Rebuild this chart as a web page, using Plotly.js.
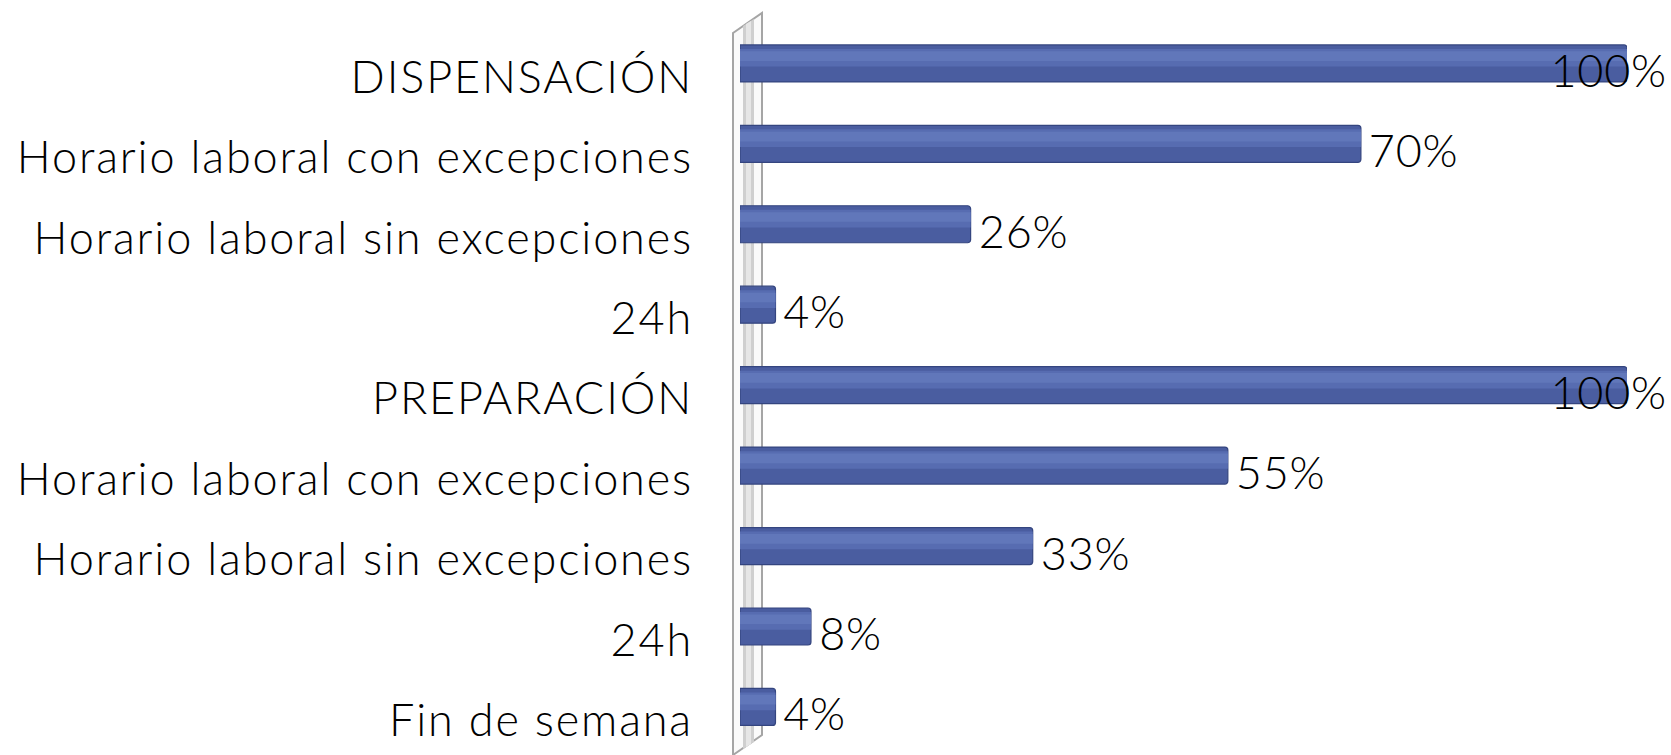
<!DOCTYPE html>
<html>
<head>
<meta charset="utf-8">
<script src="https://cdn.plot.ly/plotly-3.0.1.min.js"></script>
<style>
  html, body { margin: 0; padding: 0; background: #ffffff; }
  #chart { width: 1671px; height: 755px; }
  #chart .ytick text { letter-spacing: 1.85px; }
  #chart .annotation-text { letter-spacing: 0.8px; }
</style>
</head>
<body>
<div id="chart"></div>
<script>
// ---- data ----
const categories = [
  "DISPENSACIÓN",
  "Horario laboral con excepciones",
  "Horario laboral sin excepciones",
  "24h",
  "PREPARACIÓN",
  "Horario laboral con excepciones",
  "Horario laboral sin excepciones",
  "24h",
  "Fin de semana"
];
const values = [100, 70, 26, 4, 100, 55, 33, 8, 4];
const valueLabels = ["100%", "70%", "26%", "4%", "100%", "55%", "33%", "8%", "4%"];

// ---- layout constants ----
const W = 1671, H = 755;
const M = { l: 740, r: 44, t: 23, b: 8 };
const PW = W - M.l - M.r, PH = H - M.t - M.b;
const xMax = 100;
const positions = categories.map((_, i) => i);
const FONT = "Lato, 'Open Sans', sans-serif";
const barWidth = 0.46;
const barLift = 0.168;   // bars drawn slightly above their category line (3D look)

function px(xp) { return (xp - M.l) / PW; }
function py(yp) { return (H - M.b - yp) / PH; }

const base = {
  type: "bar", orientation: "h",
  x: values, y: positions,
  width: barWidth, offset: -barWidth / 2 - barLift,
  marker: { color: "#4A5DA0", line: { color: "#34457F", width: 1.2 }, cornerradius: 3 },
  hoverinfo: "skip", showlegend: false
};
const highlight = {
  type: "bar", orientation: "h",
  x: values, y: positions,
  width: 0.22, offset: -barWidth / 2 - barLift + 0.05,
  marker: { color: "#576CB1", line: { width: 0 } },
  hoverinfo: "skip", showlegend: false
};
const highlight2 = {
  type: "bar", orientation: "h",
  x: values, y: positions,
  width: 0.12, offset: -barWidth / 2 - barLift + 0.08,
  marker: { color: "#6177BA", line: { width: 0 } },
  hoverinfo: "skip", showlegend: false
};

const annotations = values.map((v, i) => {
  const atMax = v >= xMax;
  return {
    x: v, y: positions[i], xref: "x", yref: "y",
    text: valueLabels[i], showarrow: false,
    xanchor: atMax ? "right" : "left",
    xshift: atMax ? 40 : 7, yshift: 7,
    font: { family: FONT, size: 45, weight: 300, color: "#000000" }
  };
});

// 3D wall behind the category axis (decoration)
function poly(pts) {
  return "M " + pts.map(p => px(p[0]) + "," + py(p[1])).join(" L ") + " Z";
}
const shapes = [
  { type: "path", xref: "paper", yref: "paper", layer: "below",
    path: poly([[733, 33], [762, 13], [762, 735], [733, 755]]),
    fillcolor: "#fafafa", line: { color: "#a5a5a5", width: 2 } },
  { type: "path", xref: "paper", yref: "paper", layer: "below",
    path: poly([[743, 26], [754, 19], [754, 742], [743, 749]]),
    fillcolor: "#cfcfcf", line: { width: 0 } },
  { type: "path", xref: "paper", yref: "paper", layer: "below",
    path: poly([[746, 24], [751, 21], [751, 744], [746, 747]]),
    fillcolor: "#e6e6e6", line: { width: 0 } }
];

const layout = {
  width: W, height: H,
  margin: M,
  paper_bgcolor: "#ffffff", plot_bgcolor: "rgba(0,0,0,0)",
  barmode: "overlay",
  showlegend: false,
  xaxis: { range: [0, xMax], visible: false, fixedrange: true },
  yaxis: {
    range: [8.33, -0.67],
    tickmode: "array", tickvals: positions, ticktext: categories,
    showgrid: false, zeroline: false, showline: false, ticks: "",
    ticklabelstandoff: 46,
    tickfont: { family: FONT, size: 45, weight: 300, color: "#000000" },
    fixedrange: true
  },
  annotations: annotations,
  shapes: shapes
};

Plotly.newPlot("chart", [base, highlight, highlight2], layout, { displayModeBar: false, staticPlot: true });
</script>
</body>
</html>
